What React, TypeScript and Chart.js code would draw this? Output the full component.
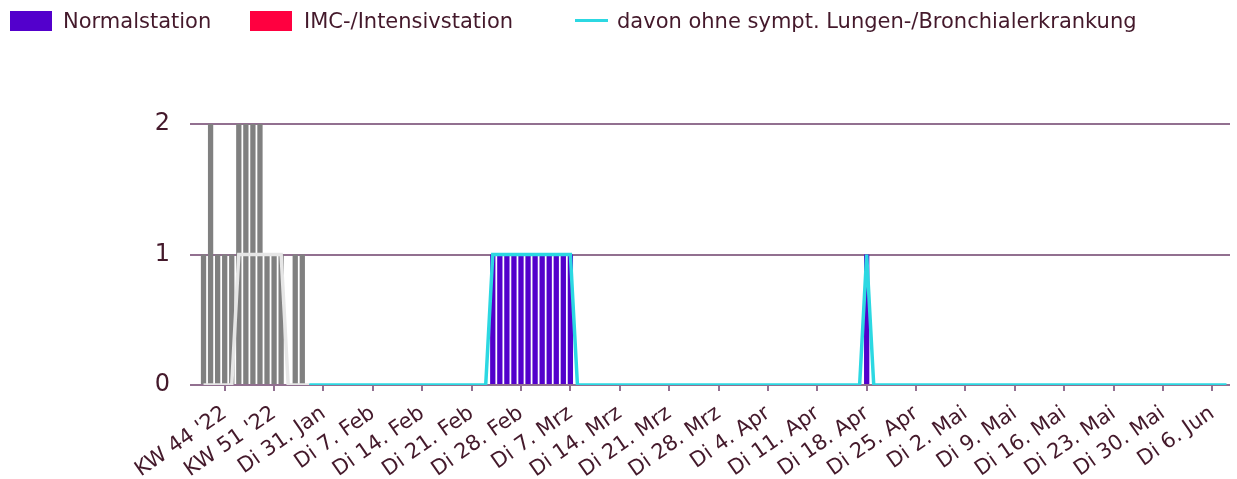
import React, { useEffect, useRef } from 'react';
import { Chart, registerables } from 'chart.js';

Chart.register(...registerables);

// Weekly categories (2022 / early 2023)
const weekLabels = [
  "KW 41 '22", "KW 42 '22", "KW 43 '22", "KW 44 '22", "KW 45 '22", "KW 46 '22",
  "KW 47 '22", "KW 48 '22", "KW 49 '22", "KW 50 '22", "KW 51 '22", "KW 52 '22",
  "KW 1 '23", "KW 2 '23", "KW 3 '23", "KW 4 '23",
];

// Daily categories from Mo 30. Jan 2023 to Do 8. Jun 2023
const dayStart = { year: 2023, month: 0, day: 30 };
const dayCount = 130;
const weekdayNames = ['So', 'Mo', 'Di', 'Mi', 'Do', 'Fr', 'Sa'];
const monthNames = ['Jan', 'Feb', 'Mrz', 'Apr', 'Mai', 'Jun', 'Jul', 'Aug', 'Sep', 'Okt', 'Nov', 'Dez'];

function buildDayLabels(): string[] {
  const out: string[] = [];
  const base = Date.UTC(dayStart.year, dayStart.month, dayStart.day);
  for (let i = 0; i < dayCount; i++) {
    const d = new Date(base + i * 86400000);
    out.push(`${weekdayNames[d.getUTCDay()]} ${d.getUTCDate()}. ${monthNames[d.getUTCMonth()]}`);
  }
  return out;
}
const dayLabels = buildDayLabels();
const categories = [...weekLabels, ...dayLabels];

// Tick labels shown on the x axis
const shownTicks = [
  "KW 44 '22", "KW 51 '22", 'Di 31. Jan', 'Di 7. Feb', 'Di 14. Feb', 'Di 21. Feb',
  'Di 28. Feb', 'Di 7. Mrz', 'Di 14. Mrz', 'Di 21. Mrz', 'Di 28. Mrz', 'Di 4. Apr',
  'Di 11. Apr', 'Di 18. Apr', 'Di 25. Apr', 'Di 2. Mai', 'Di 9. Mai', 'Di 16. Mai',
  'Di 23. Mai', 'Di 30. Mai', 'Di 6. Jun',
];

// Normalstation
const normalWeekly = [1, 2, 1, 1, 1, 2, 2, 2, 2, 1, 1, 1, 0, 1, 1, 0];
const normalDaily = [
  0, 0, 0, 0, 0, 0, 0, 0, 0, 0,
  0, 0, 0, 0, 0, 0, 0, 0, 0, 0,
  0, 0, 0, 0, 0, 1, 1, 1, 1, 1,
  1, 1, 1, 1, 1, 1, 1, 0, 0, 0,
  0, 0, 0, 0, 0, 0, 0, 0, 0, 0,
  0, 0, 0, 0, 0, 0, 0, 0, 0, 0,
  0, 0, 0, 0, 0, 0, 0, 0, 0, 0,
  0, 0, 0, 0, 0, 0, 0, 0, 1, 0,
  0, 0, 0, 0, 0, 0, 0, 0, 0, 0,
  0, 0, 0, 0, 0, 0, 0, 0, 0, 0,
  0, 0, 0, 0, 0, 0, 0, 0, 0, 0,
  0, 0, 0, 0, 0, 0, 0, 0, 0, 0,
  0, 0, 0, 0, 0, 0, 0, 0, 0, 0,
];

// IMC-/Intensivstation
const imcWeekly = [0, 0, 0, 0, 0, 0, 0, 0, 0, 0, 0, 0, 0, 0, 0, 0];
const imcDaily = [
  0, 0, 0, 0, 0, 0, 0, 0, 0, 0,
  0, 0, 0, 0, 0, 0, 0, 0, 0, 0,
  0, 0, 0, 0, 0, 0, 0, 0, 0, 0,
  0, 0, 0, 0, 0, 0, 0, 0, 0, 0,
  0, 0, 0, 0, 0, 0, 0, 0, 0, 0,
  0, 0, 0, 0, 0, 0, 0, 0, 0, 0,
  0, 0, 0, 0, 0, 0, 0, 0, 0, 0,
  0, 0, 0, 0, 0, 0, 0, 0, 0, 0,
  0, 0, 0, 0, 0, 0, 0, 0, 0, 0,
  0, 0, 0, 0, 0, 0, 0, 0, 0, 0,
  0, 0, 0, 0, 0, 0, 0, 0, 0, 0,
  0, 0, 0, 0, 0, 0, 0, 0, 0, 0,
  0, 0, 0, 0, 0, 0, 0, 0, 0, 0,
];

// davon ohne sympt. Lungen-/Bronchialerkrankung
const ohneWeekly = [0, 0, 0, 0, 0, 1, 1, 1, 1, 1, 1, 1, 0, 0, 0, 0];
const ohneDaily = [
  0, 0, 0, 0, 0, 0, 0, 0, 0, 0,
  0, 0, 0, 0, 0, 0, 0, 0, 0, 0,
  0, 0, 0, 0, 0, 1, 1, 1, 1, 1,
  1, 1, 1, 1, 1, 1, 1, 0, 0, 0,
  0, 0, 0, 0, 0, 0, 0, 0, 0, 0,
  0, 0, 0, 0, 0, 0, 0, 0, 0, 0,
  0, 0, 0, 0, 0, 0, 0, 0, 0, 0,
  0, 0, 0, 0, 0, 0, 0, 0, 1, 0,
  0, 0, 0, 0, 0, 0, 0, 0, 0, 0,
  0, 0, 0, 0, 0, 0, 0, 0, 0, 0,
  0, 0, 0, 0, 0, 0, 0, 0, 0, 0,
  0, 0, 0, 0, 0, 0, 0, 0, 0, 0,
  0, 0, 0, 0, 0, 0, 0, 0, 0, 0,
];

const yTicks = [0, 1, 2];

const PURPLE = '#5300cc';
const RED = '#ff0040';
const CYAN = '#2cd8e2';
const GRAY_BAR = '#808080';
const GRAY_LINE = '#e6e6e6';
const GRID = '#927090';
const TEXT = '#44192b';
const FONT = "Verdana, 'DejaVu Sans', sans-serif";

const weekCount = weekLabels.length;

export default function App() {
  const canvasRef = useRef<HTMLCanvasElement | null>(null);

  useEffect(() => {
    const canvas = canvasRef.current;
    if (!canvas) return;
    const normal = [...normalWeekly, ...normalDaily];
    const imc = [...imcWeekly, ...imcDaily];
    const ohne = [...ohneWeekly, ...ohneDaily];

    const chart = new Chart(canvas, {
      type: 'bar',
      data: {
        labels: categories,
        datasets: [
          {
            type: 'line',
            label: 'davon ohne sympt. Lungen-/Bronchialerkrankung',
            data: ohne,
            borderColor: CYAN,
            backgroundColor: CYAN,
            borderWidth: 3.5,
            pointRadius: 0,
            tension: 0,
            stack: 'line',
            order: 0,
            segment: {
              borderColor: (ctx: any) => (ctx.p0DataIndex < weekCount - 1 ? GRAY_LINE : CYAN),
            },
          } as any,
          {
            type: 'bar',
            label: 'Normalstation',
            data: normal,
            backgroundColor: normal.map((_, i) => (i < weekCount ? GRAY_BAR : PURPLE)),
            barPercentage: 0.75,
            categoryPercentage: 1,
            stack: 'bars',
            order: 1,
          },
          {
            type: 'bar',
            label: 'IMC-/Intensivstation',
            data: imc,
            backgroundColor: RED,
            barPercentage: 0.75,
            categoryPercentage: 1,
            stack: 'bars',
            order: 2,
          },
        ],
      },
      options: {
        responsive: false,
        animation: false,
        layout: { padding: { left: 150, right: 7, top: 124, bottom: 0 } },
        plugins: {
          legend: { display: false },
          tooltip: { enabled: false },
        },
        scales: {
          x: {
            stacked: true,
            offset: true,
            border: { display: false },
            grid: {
              offset: false,
              drawOnChartArea: false,
              tickLength: 6,
              lineWidth: 2,
              tickColor: (ctx: any) =>
                shownTicks.includes(categories[ctx.index]) ? GRID : 'rgba(0,0,0,0)',
              color: 'rgba(0,0,0,0)',
            },
            ticks: {
              autoSkip: false,
              minRotation: 35,
              maxRotation: 35,
              padding: 10,
              color: TEXT,
              font: { family: FONT, size: 21 },
              callback: (value: any) => {
                const l = categories[value as number];
                return shownTicks.includes(l) ? l : '';
              },
            },
            afterFit: (scale: any) => {
              scale.height = 94;
              scale.paddingLeft = 0;
              scale.paddingRight = 0;
            },
          },
          y: {
            stacked: true,
            min: yTicks[0],
            max: yTicks[yTicks.length - 1],
            border: { display: false },
            grid: {
              color: GRID,
              lineWidth: 2,
              tickLength: 10,
            },
            ticks: {
              stepSize: 1,
              padding: 20,
              color: TEXT,
              font: { family: FONT, size: 24 },
            },
            afterFit: (scale: any) => {
              scale.width = 50;
            },
          },
        },
      },
    });
    return () => chart.destroy();
  }, []);

  const legendText: React.CSSProperties = {
    position: 'absolute',
    top: 6,
    height: 30,
    lineHeight: '30px',
    fontFamily: FONT,
    fontSize: 21,
    color: TEXT,
    whiteSpace: 'nowrap',
  };

  return (
    <div style={{ position: 'absolute', left: 0, top: 0, width: 1237, height: 479 }}>
      <canvas
        ref={canvasRef}
        width={1237}
        height={479}
        style={{ position: 'absolute', left: 0, top: 0, display: 'block' }}
      />
      <div style={{ position: 'absolute', left: 10, top: 11, width: 42, height: 20, background: PURPLE }} />
      <div style={{ ...legendText, left: 63 }}>Normalstation</div>
      <div style={{ position: 'absolute', left: 250, top: 11, width: 42, height: 20, background: RED }} />
      <div style={{ ...legendText, left: 304 }}>IMC-/Intensivstation</div>
      <div style={{ position: 'absolute', left: 575, top: 19, width: 33, height: 3, background: CYAN }} />
      <div style={{ ...legendText, left: 617 }}>davon ohne sympt. Lungen-/Bronchialerkrankung</div>
    </div>
  );
}
